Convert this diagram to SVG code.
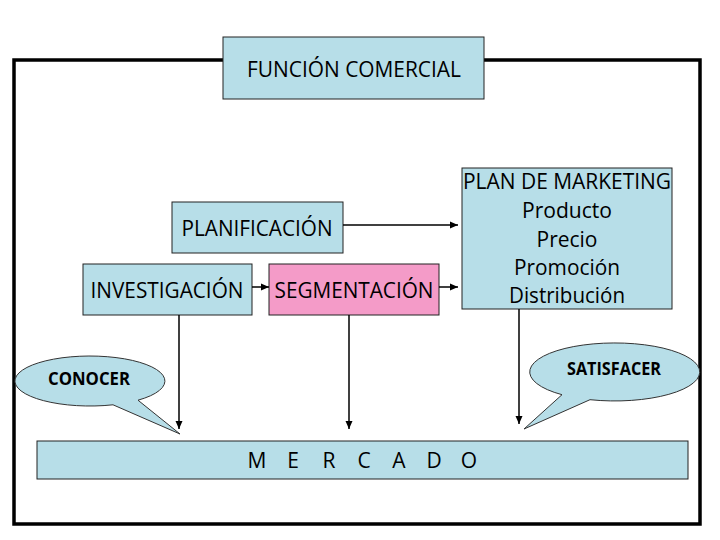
<svg xmlns="http://www.w3.org/2000/svg" width="720" height="540" viewBox="0 0 720 540">
<defs>
<marker id="ah" markerWidth="8" markerHeight="8" viewBox="0 0 8 8" refX="8" refY="4" orient="auto" markerUnits="userSpaceOnUse">
<path d="M0,0.5 L8,4 L0,7.5 Z" fill="#000"/>
</marker>
<style>
.box{fill:#B7DEE8;stroke:#222;stroke-width:1}
.pink{fill:#F49BC8;stroke:#222;stroke-width:1}
.t{font-family:"Open Sans","Liberation Sans",sans-serif;font-size:21px;fill:#000;text-anchor:middle}
.b{font-family:"Open Sans","Liberation Sans",sans-serif;font-size:17px;font-weight:bold;fill:#000;text-anchor:middle}
.c{fill:none;stroke:#000;stroke-width:1.5}
.call{fill:#B7DEE8;stroke:#333;stroke-width:1}
</style>
</defs>
<rect width="720" height="540" fill="#fff"/>
<rect x="14" y="60" width="686" height="464" fill="none" stroke="#000" stroke-width="3.5"/>
<g id="funcion">
<rect class="box" x="223" y="37" width="261" height="62"/>
<text class="t" x="354" y="77" textLength="214" lengthAdjust="spacingAndGlyphs">FUNCIÓN COMERCIAL</text>
</g>
<g id="planificacion">
<rect class="box" x="172" y="202" width="171" height="51"/>
<text class="t" x="257" y="236" textLength="151" lengthAdjust="spacingAndGlyphs">PLANIFICACIÓN</text>
</g>
<g id="investigacion">
<rect class="box" x="83" y="264" width="169" height="51"/>
<text class="t" x="167" y="298" textLength="153" lengthAdjust="spacingAndGlyphs">INVESTIGACIÓN</text>
</g>
<g id="segmentacion">
<rect class="pink" x="269" y="264" width="170" height="51"/>
<text class="t" x="354" y="298" textLength="159" lengthAdjust="spacingAndGlyphs">SEGMENTACIÓN</text>
</g>
<g id="plan">
<rect class="box" x="462" y="168" width="210" height="141"/>
<text class="t" x="567" y="189" textLength="208" lengthAdjust="spacingAndGlyphs">PLAN DE MARKETING</text>
<text class="t" x="567" y="218" textLength="90" lengthAdjust="spacingAndGlyphs">Producto</text>
<text class="t" x="567" y="247" textLength="61" lengthAdjust="spacingAndGlyphs">Precio</text>
<text class="t" x="567" y="275" textLength="106" lengthAdjust="spacingAndGlyphs">Promoción</text>
<text class="t" x="567" y="303" textLength="116" lengthAdjust="spacingAndGlyphs">Distribución</text>
</g>
<g id="mercado">
<rect class="box" x="37" y="441" width="651" height="38"/>
<text class="t" x="257 293 329 364 399 434 469" y="468" font-size="21">MERCADO</text>
</g>
<g id="connectors">
<line class="c" x1="343" y1="225" x2="458" y2="225" marker-end="url(#ah)"/>
<line class="c" x1="252" y1="287" x2="269" y2="287" marker-end="url(#ah)"/>
<line class="c" x1="439" y1="287" x2="458" y2="287" marker-end="url(#ah)"/>
<line class="c" x1="179" y1="315" x2="179" y2="429" marker-end="url(#ah)"/>
<line class="c" x1="349" y1="315" x2="349" y2="429" marker-end="url(#ah)"/>
<line class="c" x1="519" y1="309" x2="519" y2="424" marker-end="url(#ah)"/>
</g>
<g id="conocer">
<path class="call" d="M138,400.2 A75 25 0 1 0 113,404.8 L180,434 Z"/>
<text class="b" x="89" y="385" textLength="82" lengthAdjust="spacingAndGlyphs">CONOCER</text>
</g>
<g id="satisfacer">
<path class="call" d="M590,399.7 A85 29 0 1 0 562,394.7 L524,429 Z"/>
<text class="b" x="614" y="375" textLength="94" lengthAdjust="spacingAndGlyphs">SATISFACER</text>
</g>
</svg>
